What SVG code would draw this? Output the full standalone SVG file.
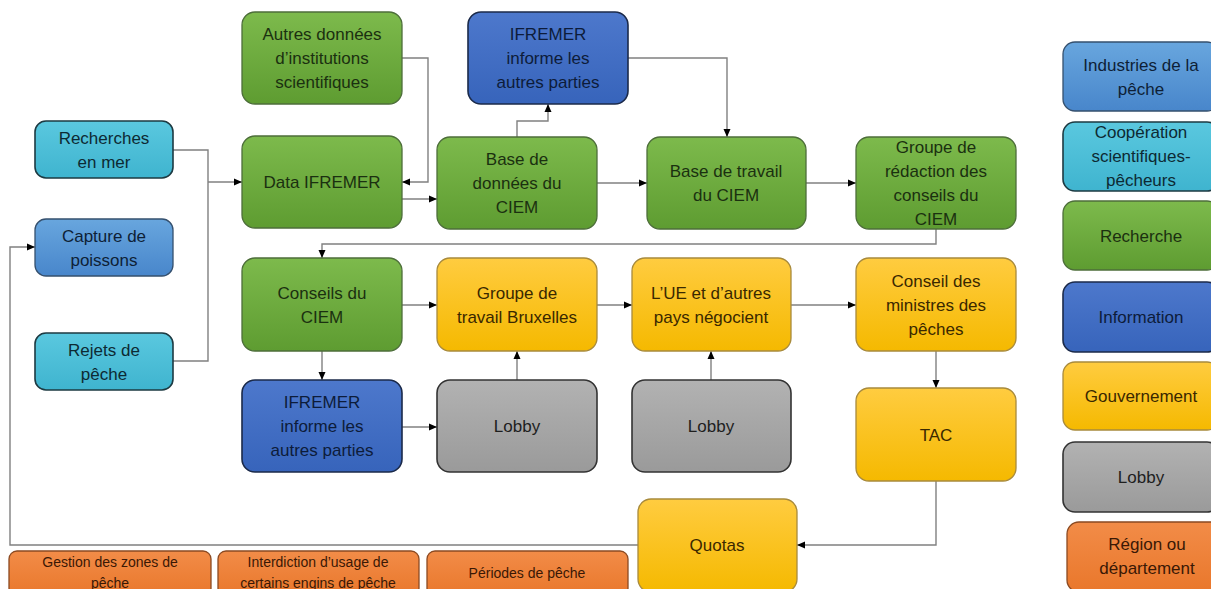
<svg xmlns="http://www.w3.org/2000/svg" width="1211" height="589" viewBox="0 0 1211 589">
<defs>
<linearGradient id="gGreen" x1="0" y1="0" x2="0" y2="1"><stop offset="0" stop-color="#7dba4c"/><stop offset="1" stop-color="#5e9c31"/></linearGradient>
<linearGradient id="gInfo" x1="0" y1="0" x2="0" y2="1"><stop offset="0" stop-color="#4d78cc"/><stop offset="1" stop-color="#3764bb"/></linearGradient>
<linearGradient id="gLight" x1="0" y1="0" x2="0" y2="1"><stop offset="0" stop-color="#68a6de"/><stop offset="1" stop-color="#4886cb"/></linearGradient>
<linearGradient id="gCyan" x1="0" y1="0" x2="0" y2="1"><stop offset="0" stop-color="#5ac8df"/><stop offset="1" stop-color="#3fb4cf"/></linearGradient>
<linearGradient id="gYellow" x1="0" y1="0" x2="0" y2="1"><stop offset="0" stop-color="#ffcc40"/><stop offset="1" stop-color="#f5b900"/></linearGradient>
<linearGradient id="gGray" x1="0" y1="0" x2="0" y2="1"><stop offset="0" stop-color="#b2b2b2"/><stop offset="1" stop-color="#9a9a9a"/></linearGradient>
<linearGradient id="gOrange" x1="0" y1="0" x2="0" y2="1"><stop offset="0" stop-color="#f28c48"/><stop offset="1" stop-color="#e9772b"/></linearGradient>
<marker id="arr" markerUnits="userSpaceOnUse" markerWidth="8" markerHeight="8" refX="8" refY="4" orient="auto"><path d="M0,0.5 L8,4 L0,7.5 z" fill="#000"/></marker>
</defs>
<style>
text{font-family:"Liberation Sans",Arial,sans-serif;font-size:17px;text-anchor:middle}
.small text{font-size:14px}
.green rect{fill:url(#gGreen);stroke:#4d6e3a;stroke-width:1.3}
.green text{fill:#1b3010}
.info rect{fill:url(#gInfo);stroke:#1b2a4a;stroke-width:1.6}
.info text{fill:#0d1c3a}
.light rect{fill:url(#gLight);stroke:#35506e;stroke-width:1.3}
.light text{fill:#0e1f36}
.cyan rect{fill:url(#gCyan);stroke:#1d3a42;stroke-width:1.6}
.cyan text{fill:#0d2a33}
.yellow rect{fill:url(#gYellow);stroke:#a88a3c;stroke-width:1.3}
.yellow text{fill:#3a2800}
.gray rect{fill:url(#gGray);stroke:#333;stroke-width:1.6}
.gray text{fill:#1e1e1e}
.orange rect{fill:url(#gOrange);stroke:#8b4a22;stroke-width:1.3}
.orange text{fill:#3a1805}
.conn path{fill:none;stroke:#808080;stroke-width:1.4}
.conn .a{marker-end:url(#arr)}
</style>
<rect width="1211" height="589" fill="#fff"/>

<g class="conn" id="connectors">
<path d="M173,150 H208 V361 H173"/>
<path class="a" d="M208,182 H242"/>
<path class="a" d="M402,58 H428 V182 H402"/>
<path class="a" d="M402,199 H437"/>
<path class="a" d="M517,137 V121 H548 V104"/>
<path class="a" d="M628,58 H727 V137"/>
<path class="a" d="M597,183 H647"/>
<path class="a" d="M806,183 H856"/>
<path class="a" d="M936,229 V244 H322 V258"/>
<path class="a" d="M402,305 H437"/>
<path class="a" d="M322,351 V380"/>
<path class="a" d="M402,427 H437"/>
<path class="a" d="M517,380 V351"/>
<path class="a" d="M597,305 H632"/>
<path class="a" d="M711,380 V351"/>
<path class="a" d="M791,305 H856"/>
<path class="a" d="M936,351 V388"/>
<path class="a" d="M936,481 V545 H797"/>
<path class="a" d="M638,545 H10 V247 H35"/>
</g>

<g id="autres" class="green"><rect x="242" y="12" width="160" height="92" rx="13"/><text x="322" y="40">Autres données</text><text x="322" y="64">d’institutions</text><text x="322" y="88">scientifiques</text></g>
<g id="data" class="green"><rect x="242" y="136" width="160" height="92" rx="13"/><text x="322" y="188">Data IFREMER</text></g>
<g id="recherches" class="cyan"><rect x="35" y="121" width="138" height="57" rx="11"/><text x="104" y="144">Recherches</text><text x="104" y="168">en mer</text></g>
<g id="capture" class="light"><rect x="35" y="219" width="138" height="57" rx="11"/><text x="104" y="242">Capture de</text><text x="104" y="266">poissons</text></g>
<g id="rejets" class="cyan"><rect x="35" y="333" width="138" height="57" rx="11"/><text x="104" y="356">Rejets de</text><text x="104" y="380">pêche</text></g>
<g id="ifremer1" class="info"><rect x="468" y="12" width="160" height="92" rx="13"/><text x="548" y="40">IFREMER</text><text x="548" y="64">informe les</text><text x="548" y="88">autres parties</text></g>
<g id="bdd" class="green"><rect x="437" y="137" width="160" height="92" rx="13"/><text x="517" y="165">Base de</text><text x="517" y="189">données du</text><text x="517" y="213">CIEM</text></g>
<g id="bdt" class="green"><rect x="647" y="137" width="159" height="92" rx="13"/><text x="726" y="177">Base de travail</text><text x="726" y="201">du CIEM</text></g>
<g id="redaction" class="green"><rect x="856" y="137" width="160" height="92" rx="13"/><text x="936" y="153">Groupe de</text><text x="936" y="177">rédaction des</text><text x="936" y="201">conseils du</text><text x="936" y="225">CIEM</text></g>
<g id="conseils" class="green"><rect x="242" y="258" width="160" height="93" rx="13"/><text x="322" y="299">Conseils du</text><text x="322" y="323">CIEM</text></g>
<g id="ifremer2" class="info"><rect x="242" y="380" width="160" height="92" rx="13"/><text x="322" y="408">IFREMER</text><text x="322" y="432">informe les</text><text x="322" y="456">autres parties</text></g>
<g id="bruxelles" class="yellow"><rect x="437" y="258" width="160" height="93" rx="13"/><text x="517" y="299">Groupe de</text><text x="517" y="323">travail Bruxelles</text></g>
<g id="ue" class="yellow"><rect x="632" y="258" width="159" height="93" rx="13"/><text x="711" y="299">L’UE et d’autres</text><text x="711" y="323">pays négocient</text></g>
<g id="ministres" class="yellow"><rect x="856" y="258" width="160" height="93" rx="13"/><text x="936" y="287">Conseil des</text><text x="936" y="311">ministres des</text><text x="936" y="335">pêches</text></g>
<g id="lobby1" class="gray"><rect x="437" y="380" width="160" height="92" rx="13"/><text x="517" y="432">Lobby</text></g>
<g id="lobby2" class="gray"><rect x="632" y="380" width="159" height="92" rx="13"/><text x="711" y="432">Lobby</text></g>
<g id="tac" class="yellow"><rect x="856" y="388" width="160" height="93" rx="13"/><text x="936" y="441">TAC</text></g>
<g id="quotas" class="yellow"><rect x="638" y="499" width="159" height="93" rx="13"/><text x="717" y="551">Quotas</text></g>

<g id="gestion" class="orange small"><rect x="9" y="551" width="202" height="45" rx="8"/><text x="110" y="567">Gestion des zones de</text><text x="110" y="588">pêche</text></g>
<g id="interdiction" class="orange small"><rect x="218" y="551" width="201" height="45" rx="8"/><text x="318" y="567">Interdiction d’usage de</text><text x="318" y="588">certains engins de pêche</text></g>
<g id="periodes" class="orange small"><rect x="427" y="551" width="201" height="45" rx="8"/><text x="527" y="578">Périodes de pêche</text></g>

<g id="leg-industries" class="light"><rect x="1063" y="42" width="156" height="69" rx="12"/><text x="1141" y="71">Industries de la</text><text x="1141" y="95">pêche</text></g>
<g id="leg-cooperation" class="cyan"><rect x="1063" y="122" width="156" height="69" rx="12"/><text x="1141" y="138">Coopération</text><text x="1141" y="162">scientifiques-</text><text x="1141" y="186">pêcheurs</text></g>
<g id="leg-recherche" class="green"><rect x="1063" y="201" width="156" height="69" rx="12"/><text x="1141" y="242">Recherche</text></g>
<g id="leg-information" class="info"><rect x="1063" y="282" width="156" height="70" rx="12"/><text x="1141" y="323">Information</text></g>
<g id="leg-gouvernement" class="yellow"><rect x="1063" y="362" width="156" height="68" rx="12"/><text x="1141" y="402">Gouvernement</text></g>
<g id="leg-lobby" class="gray"><rect x="1063" y="442" width="156" height="70" rx="12"/><text x="1141" y="483">Lobby</text></g>
<g id="leg-region" class="orange"><rect x="1067" y="522" width="156" height="70" rx="12"/><text x="1147" y="550">Région ou</text><text x="1147" y="574">département</text></g>
</svg>
